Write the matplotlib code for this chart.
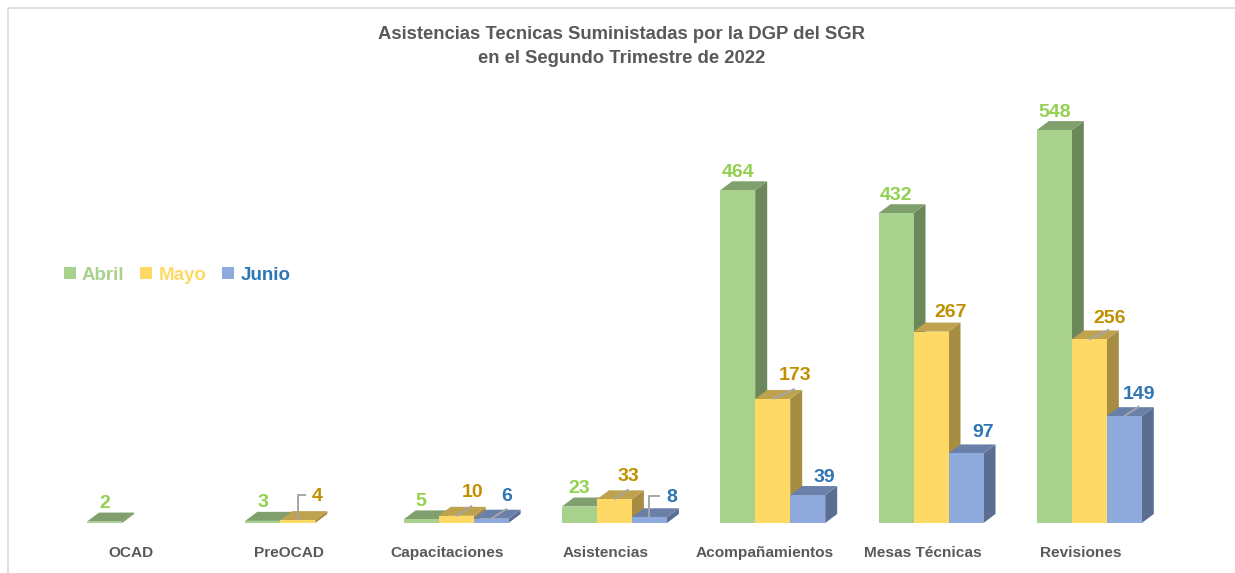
import matplotlib
matplotlib.use("Agg")
import matplotlib.pyplot as plt
from matplotlib.lines import Line2D
from matplotlib.patches import Polygon, Patch

plt.rcParams['font.family'] = ['Liberation Sans']

categories = ["OCAD", "PreOCAD", "Capacitaciones", "Asistencias",
              "Acompañamientos", "Mesas Técnicas", "Revisiones"]
abril = [2, 3, 5, 23, 464, 432, 548]
mayo = [0, 4, 10, 33, 173, 267, 256]
junio = [0, 0, 6, 8, 39, 97, 149]
series_names = ["Abril", "Mayo", "Junio"]

# front, top, side colours and label colour per series
front = ["#A9D18E", "#FFD966", "#8FAADC"]
top = ["#7F9F6C", "#BFA24D", "#6A80A8"]
side = ["#6C8759", "#A68D42", "#5B6E92"]
text_col = ["#92D050", "#BF9000", "#2E75B6"]

# label offsets from the top centre of each bar, in pixels
off_abril = [(0, 20)] * 7
off_mayo = [None, (19, 26), (16, 25), (14, 25), (22, 25), (20, 21), (20, 23)]
off_junio = [None, None, (16, 24), (22, 22), (17, 20), (17, 23), (15, 24)]

# leader lines: "e" elbow, "s" straight, None nothing
lead_abril = [None] * 7
lead_mayo = [None, "e", "s", "s", "s", None, "s"]
lead_junio = [None, None, "s", "e", None, None, "s"]

W, H = 1235, 573
PX_X = 158.3    # pixels per group
PX_Y = 0.717    # pixels per unit
X0 = 139.5      # pixel of first group centre
Y0 = 523        # pixel of baseline
BAR_W = 35 / PX_X
DX = 12 / PX_X
DY = 9 / PX_Y

fig = plt.figure(figsize=(W / 100, H / 100), dpi=100)
ax = fig.add_axes([0, 0, 1, 1])
ax.set_xlim(-X0 / PX_X, (W - X0) / PX_X)
ax.set_ylim(-(H - Y0) / PX_Y, Y0 / PX_Y)
ax.axis("off")

# chart frame, only top and left show in the crop
fig.add_artist(Line2D([8 / W, 8 / W, 1], [0, 1 - 8 / H, 1 - 8 / H], color="#DADADA", lw=1.2))

series = [abril, mayo, junio]
offsets = [off_abril, off_mayo, off_junio]
leaders = [lead_abril, lead_mayo, lead_junio]

for s, values in enumerate(series):
    for i, v in enumerate(values):
        if v == 0:
            continue
        xc = i + (s - 1) * BAR_W
        left = xc - BAR_W / 2
        right = xc + BAR_W / 2
        # side first, later bars cover it where they overlap
        ax.add_patch(Polygon([(right, 0), (right + DX, DY), (right + DX, v + DY), (right, v)],
                             closed=True, fc=side[s], ec="none", zorder=2 + s))
        ax.add_patch(Polygon([(left, v), (left + DX, v + DY), (right + DX, v + DY), (right, v)],
                             closed=True, fc=top[s], ec="none", zorder=2 + s))
        ax.bar(xc, v, BAR_W, color=front[s], zorder=2 + s)

        ox, oy = offsets[s][i]
        ax.text(xc + ox / PX_X, v + (oy - 2) / PX_Y, str(v), color=text_col[s],
                fontsize=14, fontweight="bold", ha="center", va="center", zorder=8)

        kind = leaders[s][i]
        if kind == "e":
            xs = [xc, xc, xc + (ox - 11) / PX_X]
            ys = [v, v + (oy - 1) / PX_Y, v + (oy - 1) / PX_Y]
            ax.plot(xs, ys, color="#A6A6A6", lw=1.4, zorder=7, solid_capstyle="butt")
        elif kind == "s":
            xs = [xc, xc + ox / PX_X]
            ys = [v, v + 10 / PX_Y]
            ax.plot(xs, ys, color="#A6A6A6", lw=1.4, zorder=7, solid_capstyle="butt")

for i, name in enumerate(categories):
    ax.text(i - 8.5 / PX_X, -30 / PX_Y, name, color="#595959", fontsize=11.1,
            fontweight="bold", ha="center", va="center")

fig.text(621.5 / W, 1 - 46.5 / H,
         "Asistencias Tecnicas Suministadas por la DGP del SGR\nen el Segundo Trimestre de 2022",
         color="#595959", fontsize=13.3, fontweight="bold", ha="center", va="center",
         linespacing=1.5)

handles = [Patch(fc=c, ec="none") for c in front]
leg = ax.legend(handles, series_names, ncol=3, frameon=False, loc="center left",
                bbox_to_anchor=(47 / W, 1 - 275 / H), bbox_transform=fig.transFigure,
                prop={'weight': 'bold', 'size': 13.5},
                handlelength=0.64, handleheight=0.64, handletextpad=0.32, columnspacing=0.85,
                labelcolor=["#A9D18E", "#FFD966", "#2E75B6"])

fig.savefig("out.png", dpi=100)
